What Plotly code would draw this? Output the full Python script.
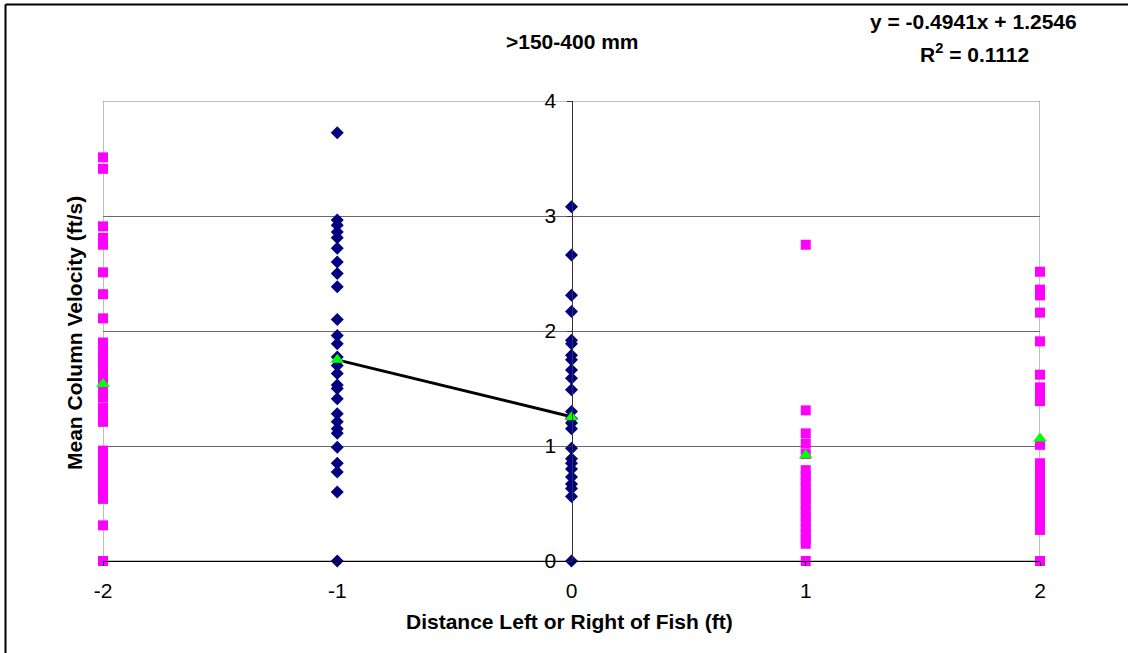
import plotly.graph_objects as go

# ---- data ----
x_positions = [-2, -1, 0, 1, 2]
x_tick_labels = ["-2", "-1", "0", "1", "2"]
y_tick_vals = [0, 1, 2, 3, 4]

vel_left2 = [3.51, 3.41, 2.91, 2.81, 2.75, 2.51, 2.32, 2.11, 1.90, 1.84, 1.78, 1.72,
             1.66, 1.60, 1.54, 1.48, 1.42, 1.33, 1.27, 1.21, 0.96, 0.90, 0.84, 0.78,
             0.72, 0.66, 0.60, 0.54, 0.31, 0.0]
vel_left1 = [3.725, 2.965, 2.92, 2.86, 2.81, 2.72, 2.60, 2.50, 2.385, 2.10, 1.96, 1.89,
             1.775, 1.70, 1.63, 1.53, 1.50, 1.41, 1.28, 1.21, 1.15, 1.11, 0.99, 0.85,
             0.775, 0.60, 0.0]
vel_center = [3.08, 2.66, 2.31, 2.17, 1.92, 1.89, 1.79, 1.75, 1.66, 1.59, 1.49, 1.30,
              1.24, 1.20, 1.15, 0.98, 0.89, 0.85, 0.80, 0.73, 0.67, 0.63, 0.56, 0.0]
vel_right1 = [2.75, 1.31, 1.11, 1.02, 0.93, 0.79, 0.74, 0.69, 0.64, 0.59, 0.54, 0.49,
              0.44, 0.39, 0.34, 0.29, 0.24, 0.19, 0.15, 0.0]
vel_right2 = [2.515, 2.36, 2.31, 2.16, 1.91, 1.62, 1.51, 1.46, 1.39, 1.01, 0.85, 0.80,
              0.75, 0.70, 0.65, 0.60, 0.55, 0.50, 0.45, 0.40, 0.35, 0.30, 0.27, 0.0]
mean_vel = [1.54, 1.75, 1.25, 0.92, 1.065]

trend_slope = -0.4941
trend_intercept = 1.2546
trend_r2 = 0.1112
trend_x = [-1, 0]

title_text = ">150-400 mm"
x_title = "Distance Left or Right of Fish (ft)"
y_title = "Mean Column Velocity (ft/s)"

FONT = "Liberation Sans, Arial, sans-serif"

W, H = 1128, 653
L, R, T, B = 103, 88, 101, 92
pw, ph = W - L - R, H - T - B


def px_x(p):
    return (p - L) / pw


def px_y(p):
    return (H - B - p) / ph


fig = go.Figure()

pink = dict(symbol="square", size=10, color="#FF00FF", line=dict(width=0))
navy = dict(symbol="diamond", size=10, color="#000080", line=dict(width=0))

fig.add_trace(go.Scatter(x=[x_positions[0]] * len(vel_left2), y=vel_left2, mode="markers",
                         marker=pink, cliponaxis=False, showlegend=False))
fig.add_trace(go.Scatter(x=[x_positions[3]] * len(vel_right1), y=vel_right1, mode="markers",
                         marker=pink, cliponaxis=False, showlegend=False))
fig.add_trace(go.Scatter(x=[x_positions[4]] * len(vel_right2), y=vel_right2, mode="markers",
                         marker=pink, cliponaxis=False, showlegend=False))
fig.add_trace(go.Scatter(x=[x_positions[1]] * len(vel_left1), y=vel_left1, mode="markers",
                         marker=navy, cliponaxis=False, showlegend=False))
fig.add_trace(go.Scatter(x=[x_positions[2]] * len(vel_center), y=vel_center, mode="markers",
                         marker=navy, cliponaxis=False, showlegend=False))

trend_y = [trend_slope * v + trend_intercept for v in trend_x]
fig.add_trace(go.Scatter(x=trend_x, y=trend_y, mode="lines",
                         line=dict(color="black", width=3), showlegend=False))

fig.add_trace(go.Scatter(x=x_positions, y=mean_vel, mode="markers",
                         marker=dict(symbol="triangle-up", size=12, color="#00FF00", line=dict(width=0)),
                         cliponaxis=False, showlegend=False))

fig.update_layout(
    width=W, height=H, autosize=False,
    margin=dict(l=L, r=R, t=T, b=B),
    paper_bgcolor="white", plot_bgcolor="white",
    font=dict(family=FONT, size=21, color="black"),
    showlegend=False,
    xaxis=dict(range=[-2, 2], tickvals=x_positions, ticktext=x_tick_labels,
               showgrid=False, zeroline=False, showline=True, linecolor="black", linewidth=1,
               ticks="outside", ticklen=4, tickcolor="black", ticklabelstandoff=7,
               tickfont=dict(size=21, family=FONT)),
    yaxis=dict(range=[0, 4], tickvals=y_tick_vals, showgrid=True, gridcolor="#6a6a6a", gridwidth=1,
               zeroline=False, showline=True, linecolor="#333333", linewidth=1,
               anchor="free", position=0.5,
               ticks="outside", ticklen=5, tickcolor="#333333", ticklabelstandoff=6,
               tickfont=dict(size=21, family=FONT)),
)

# plot area frame (gray) and outer chart border
fig.add_shape(type="rect", xref="x", yref="y", x0=-2, x1=2, y0=0, y1=4,
              line=dict(color="#808080", width=1), layer="below")
fig.add_shape(type="line", xref="paper", yref="paper", x0=px_x(5.5), x1=px_x(1140),
              y0=px_y(4.5), y1=px_y(4.5), line=dict(color="black", width=2))
fig.add_shape(type="line", xref="paper", yref="paper", x0=px_x(5.5), x1=px_x(5.5),
              y0=px_y(4.5), y1=px_y(670), line=dict(color="black", width=2))

bold = dict(family=FONT, size=21, color="black")
fig.add_annotation(text="<b>" + title_text + "</b>", xref="paper", yref="paper",
                   x=px_x(572.5), y=px_y(41.7), showarrow=False, font=bold,
                   xanchor="center", yanchor="middle")
fig.add_annotation(text="<b>y = %.4fx + %.4f</b>" % (trend_slope, trend_intercept),
                   xref="paper", yref="paper", x=px_x(973), y=px_y(21.7), showarrow=False,
                   font=bold, xanchor="center", yanchor="middle")
fig.add_annotation(text="<b>R<sup>2</sup> = %.4f</b>" % trend_r2,
                   xref="paper", yref="paper", x=px_x(974), y=px_y(53), showarrow=False,
                   font=bold, xanchor="center", yanchor="middle")
fig.add_annotation(text="<b>" + x_title + "</b>", xref="paper", yref="paper",
                   x=px_x(569), y=px_y(621.7), showarrow=False, font=bold,
                   xanchor="center", yanchor="middle")
fig.add_annotation(text="<b>" + y_title + "</b>", xref="paper", yref="paper",
                   x=px_x(74), y=px_y(333), showarrow=False,
                   font=dict(family=FONT, size=21, color="black"), textangle=-90,
                   xanchor="center", yanchor="middle")

fig.write_html("out.html", config={"displayModeBar": False},
               post_script="document.body.style.margin='0';document.body.style.overflow='hidden';")
